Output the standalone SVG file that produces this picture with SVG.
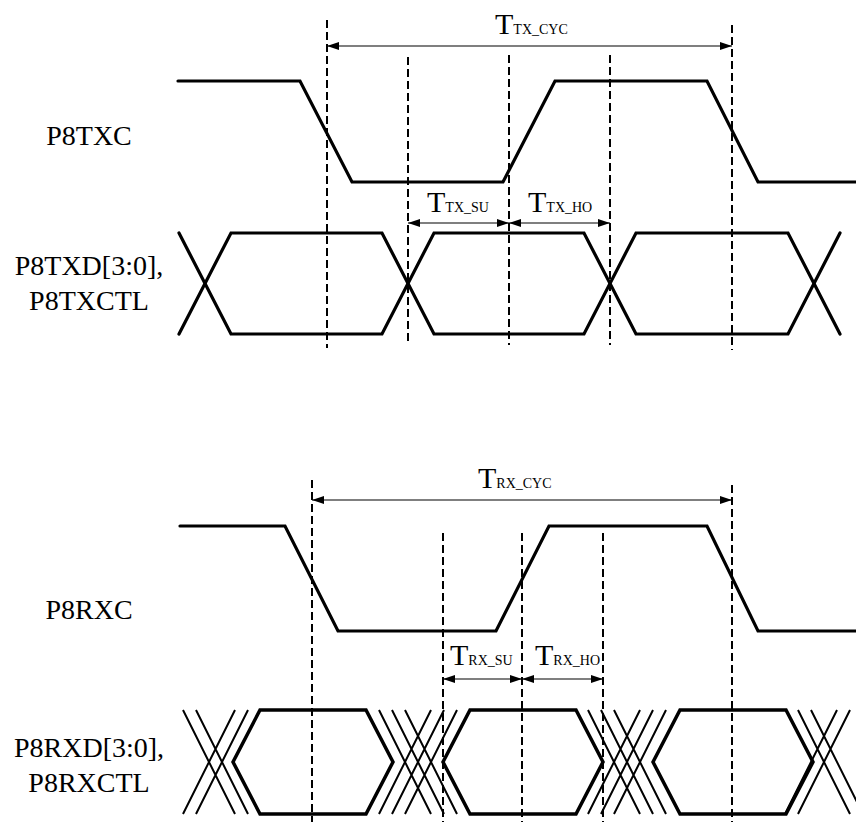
<svg xmlns="http://www.w3.org/2000/svg" width="856" height="822" viewBox="0 0 856 822">
<defs>
<style>
.sig{fill:none;stroke:#000;stroke-width:3.2;stroke-linejoin:miter;stroke-linecap:round}
.hex{fill:none;stroke:#000;stroke-width:3.5;stroke-linejoin:miter}
.thin{fill:none;stroke:#000;stroke-width:2}
.dash{fill:none;stroke:#000;stroke-width:2;stroke-dasharray:8 4}
.dim{fill:none;stroke:#000;stroke-width:1.2;marker-start:url(#ah);marker-end:url(#ah)}
</style>
<marker id="ah" viewBox="0 0 12 8" refX="12" refY="4" markerWidth="12" markerHeight="8" markerUnits="userSpaceOnUse" orient="auto-start-reverse">
<path d="M0,0 L12,4 L0,8 Z" fill="#000"/>
</marker>
</defs>
<rect width="856" height="822" fill="#fff"/>

<g id="labels" font-family="Liberation Serif, DejaVu Serif, serif" font-size="28" text-anchor="middle" fill="#000">
<text x="89" y="145">P8TXC</text>
<text x="89" y="275">P8TXD[3:0],</text>
<text x="89" y="310">P8TXCTL</text>
<text x="89" y="619">P8RXC</text>
<text x="89" y="757">P8RXD[3:0],</text>
<text x="89" y="792">P8RXCTL</text>
</g>

<g id="tx-clock">
<path class="sig" d="M178,81 L300,81 L352,182 L503,182 L555,81 L707,81 L758,182 L856,182"/>
</g>

<g id="tx-data">
<path class="sig" d="M179,233 L231,334 L382,334 L434,233 L584,233 L636,334 L788,334 L840,233"/>
<path class="sig" d="M179,334 L231,233 L382,233 L434,334 L584,334 L636,233 L788,233 L840,334"/>
</g>

<g id="rx-clock">
<path class="sig" d="M180,526 L285,526 L338,631 L496,631 L549,526 L707,526 L758,631 L856,631"/>
</g>

<g id="rx-data">
<path class="hex" d="M260,710 L366,710 L393,762 L366,814 L260,814 L233,762 Z"/>
<path class="hex" d="M470,710 L576,710 L603,762 L576,814 L470,814 L443,762 Z"/>
<path class="hex" d="M680,710 L786,710 L813,762 L786,814 L680,814 L653,762 Z"/>
<path class="thin" d="M183,710 L235,814 M196,710 L248,814 M235,710 L183,814 M248,710 L196,814"/>
<path class="thin" d="M379,710 L431,814 M392,710 L444,814 M405,710 L457,814 M431,710 L379,814 M444,710 L392,814 M457,710 L405,814"/>
<path class="thin" d="M588,710 L640,814 M601,710 L653,814 M614,710 L666,814 M640,710 L588,814 M653,710 L601,814 M666,710 L614,814"/>
<path class="thin" d="M798,710 L850,814 M811,710 L863,814 M837,710 L785,814 M850,710 L798,814"/>
</g>

<g id="connectors">
<line class="dash" x1="327" y1="20" x2="327" y2="348"/>
<line class="dash" x1="408" y1="57" x2="408" y2="345"/>
<line class="dash" x1="509" y1="55" x2="509" y2="345"/>
<line class="dash" x1="610" y1="55" x2="610" y2="345"/>
<line class="dash" x1="732" y1="25" x2="732" y2="350"/>
<line class="dash" x1="312" y1="480" x2="312" y2="822"/>
<line class="dash" x1="443" y1="533" x2="443" y2="822"/>
<line class="dash" x1="522" y1="533" x2="522" y2="822"/>
<line class="dash" x1="603" y1="533" x2="603" y2="822"/>
<line class="dash" x1="732" y1="485" x2="732" y2="822"/>
<line class="dim" x1="327" y1="46" x2="732" y2="46"/>
<line class="dim" x1="408" y1="223" x2="509" y2="223"/>
<line class="dim" x1="509" y1="223" x2="610" y2="223"/>
<line class="dim" x1="312" y1="500" x2="732" y2="500"/>
<line class="dim" x1="443" y1="679" x2="522" y2="679"/>
<line class="dim" x1="522" y1="679" x2="603" y2="679"/>
</g>

<g id="dim-labels" font-family="Liberation Serif, DejaVu Serif, serif" fill="#000">
<text x="495" y="34"><tspan font-size="30">T</tspan><tspan font-size="14">TX_CYC</tspan></text>
<text x="427" y="212"><tspan font-size="30">T</tspan><tspan font-size="14">TX_SU</tspan></text>
<text x="528" y="212"><tspan font-size="30">T</tspan><tspan font-size="14">TX_HO</tspan></text>
<text x="478" y="488"><tspan font-size="30">T</tspan><tspan font-size="14">RX_CYC</tspan></text>
<text x="450" y="665"><tspan font-size="30">T</tspan><tspan font-size="14">RX_SU</tspan></text>
<text x="535" y="665"><tspan font-size="30">T</tspan><tspan font-size="14">RX_HO</tspan></text>
</g>
</svg>
